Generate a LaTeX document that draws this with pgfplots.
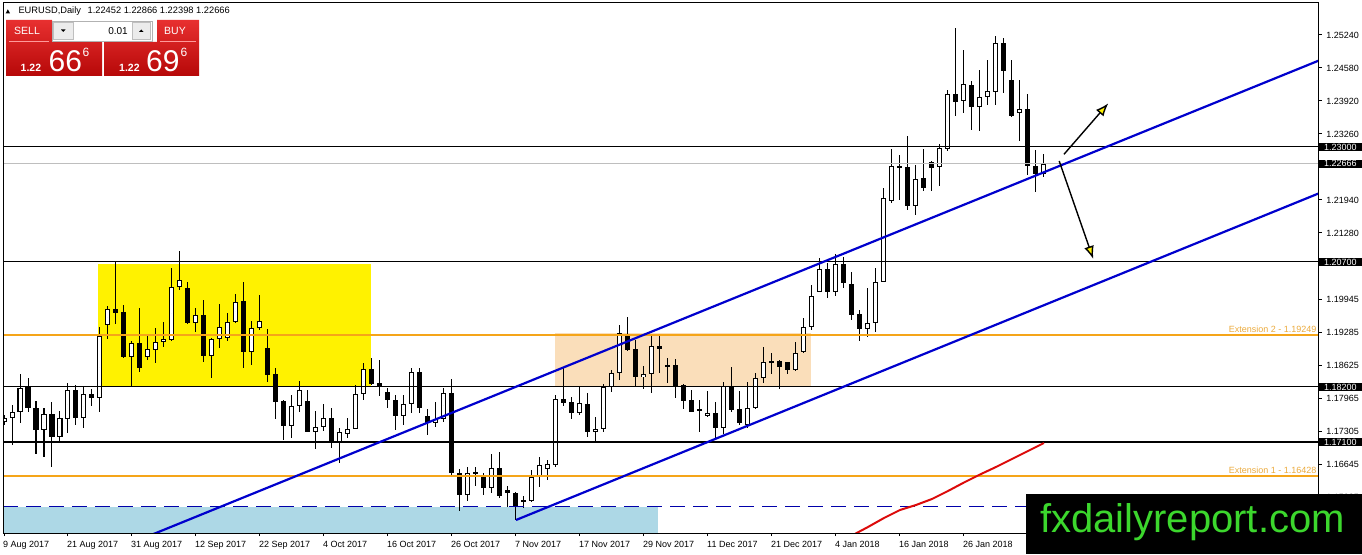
\documentclass[border=0pt]{standalone}
\usepackage{pgfplots}
\pgfplotsset{compat=1.18}
\usepackage{pgfplotstable}
\usepackage{fontspec}
\setmainfont{Liberation Sans}
\newfontfamily\dejavu{DejaVu Sans}
\usetikzlibrary{arrows.meta}

\definecolor{chblue}{RGB}{0,0,205}
\definecolor{dashblue}{RGB}{0,0,170}
\definecolor{peach}{RGB}{250,222,186}
\definecolor{lblue}{RGB}{173,216,230}
\definecolor{orng}{RGB}{245,165,25}
\definecolor{exttxt}{RGB}{235,170,60}
\definecolor{mared}{RGB}{220,10,10}
\definecolor{linegray}{RGB}{190,190,190}
\definecolor{wmgreen}{RGB}{60,215,45}
\definecolor{redtop}{RGB}{232,48,48}
\definecolor{redbot}{RGB}{182,8,8}

\pgfplotstableread{
i o h l c
0 1.17493 1.1764 1.1744 1.17573
1 1.17573 1.1784 1.1704 1.17693
2 1.17693 1.18453 1.17473 1.18187
3 1.18207 1.18373 1.17707 1.17773
4 1.17773 1.1792 1.16853 1.17333
5 1.17333 1.17773 1.16807 1.17653
6 1.17653 1.17893 1.16607 1.17207
7 1.17207 1.17727 1.17073 1.17573
8 1.1756 1.18273 1.17273 1.18133
9 1.18133 1.1824 1.1744 1.17587
10 1.17587 1.18207 1.17387 1.18053
11 1.18053 1.1816 1.17827 1.17973
12 1.17973 1.19407 1.17707 1.1922
13 1.1944 1.1982 1.19153 1.19753
14 1.19753 1.20693 1.19453 1.19687
15 1.19693 1.1984 1.18787 1.18807
16 1.18807 1.1912 1.18207 1.19073
17 1.19073 1.19787 1.18507 1.18573
18 1.18807 1.19227 1.18733 1.18953
19 1.1894 1.19387 1.18673 1.19107
20 1.19107 1.19493 1.19007 1.19153
21 1.19147 1.20573 1.19127 1.20193
22 1.20193 1.2092 1.2014 1.2034
23 1.20187 1.20293 1.1946 1.19473
24 1.19487 1.19773 1.19293 1.1964
25 1.1964 1.1994 1.18707 1.18827
26 1.18827 1.19187 1.18373 1.19153
27 1.19153 1.19853 1.18987 1.1940
28 1.19187 1.19673 1.1912 1.19507
29 1.19507 1.20053 1.19473 1.19907
30 1.1992 1.20307 1.18587 1.18907
31 1.18907 1.1952 1.1864 1.19387
32 1.19387 1.2004 1.1934 1.19527
33 1.18973 1.1936 1.18307 1.1844
34 1.18453 1.18587 1.1756 1.17907
35 1.1792 1.17933 1.1714 1.17427
36 1.17427 1.1804 1.17187 1.17827
37 1.17827 1.1832 1.17707 1.18133
38 1.1792 1.18133 1.17293 1.17307
39 1.17307 1.1772 1.16953 1.17407
40 1.17407 1.17867 1.1732 1.17573
41 1.17573 1.17773 1.16987 1.17107
42 1.17107 1.17387 1.16673 1.17307
43 1.1727 1.17573 1.17187 1.17367
44 1.17367 1.1824 1.1736 1.18053
45 1.18053 1.18687 1.17933 1.18553
46 1.18553 1.18773 1.1824 1.18267
47 1.1828 1.1874 1.18027 1.182
48 1.18093 1.18187 1.17787 1.17933
49 1.17933 1.1804 1.1734 1.17627
50 1.17627 1.1804 1.1744 1.17853
51 1.17853 1.18573 1.17673 1.18493
52 1.18493 1.18573 1.17673 1.17787
53 1.17627 1.1776 1.1724 1.17473
54 1.17473 1.17907 1.1741 1.1756
55 1.1756 1.18173 1.17507 1.18087
56 1.18087 1.18353 1.16407 1.16487
57 1.16487 1.16553 1.15727 1.1604
58 1.1604 1.16607 1.15927 1.16487
59 1.1650 1.16607 1.1622 1.1646
60 1.1642 1.16473 1.1604 1.16173
61 1.16173 1.1686 1.16073 1.16573
62 1.16573 1.1690 1.15973 1.16027
63 1.1614 1.16227 1.15793 1.16073
64 1.16087 1.1610 1.1554 1.1582
65 1.159 1.1602 1.15773 1.1594
66 1.15927 1.1654 1.159 1.16407
67 1.16407 1.16793 1.16207 1.1664
68 1.1657 1.1674 1.1634 1.1666
69 1.1664 1.1804 1.16607 1.1796
70 1.1796 1.18573 1.1782 1.17887
71 1.1790 1.17993 1.17553 1.17673
72 1.17673 1.18193 1.1764 1.17887
73 1.1786 1.18087 1.1721 1.17307
74 1.17307 1.176 1.17107 1.1736
75 1.17353 1.1826 1.17307 1.18193
76 1.18193 1.1854 1.18107 1.18473
77 1.18473 1.1944 1.1834 1.19287
78 1.1924 1.19593 1.18927 1.1894
79 1.18953 1.1914 1.1822 1.18393
80 1.18393 1.1862 1.18153 1.1846
81 1.1846 1.1924 1.18073 1.1902
82 1.1902 1.1924 1.18487 1.18953
83 1.18633 1.18773 1.18273 1.18607
84 1.1864 1.1876 1.17987 1.18227
85 1.1824 1.18253 1.1777 1.17927
86 1.1794 1.1814 1.17693 1.17707
87 1.17747 1.1794 1.1729 1.17733
88 1.1763 1.1812 1.17607 1.17673
89 1.17673 1.17907 1.1717 1.17387
90 1.17387 1.18307 1.17253 1.18227
91 1.18227 1.18607 1.17693 1.1774
92 1.1776 1.1812 1.1745 1.17473
93 1.1744 1.183 1.17387 1.17787
94 1.17787 1.18473 1.1776 1.18373
95 1.18373 1.19007 1.18273 1.18693
96 1.18713 1.18873 1.18453 1.18693
97 1.1872 1.1874 1.1816 1.18607
98 1.18693 1.18707 1.18453 1.1854
99 1.1854 1.19093 1.18527 1.18873
100 1.18893 1.19587 1.1888 1.19393
101 1.19407 1.2024 1.1934 1.2002
102 1.20107 1.20787 1.20093 1.2056
103 1.2056 1.20673 1.19987 1.20107
104 1.20107 1.20853 1.2003 1.20653
105 1.20653 1.20807 1.20187 1.20273
106 1.20253 1.20507 1.1954 1.1964
107 1.19653 1.1974 1.1912 1.19353
108 1.19353 1.20173 1.19207 1.19473
109 1.19473 1.20573 1.19293 1.20293
110 1.20307 1.22173 1.20293 1.21973
111 1.21927 1.22953 1.21873 1.2262
112 1.2262 1.2284 1.2194 1.22573
113 1.22607 1.2322 1.2174 1.2182
114 1.21827 1.2264 1.2164 1.22353
115 1.22373 1.22953 1.22127 1.22187
116 1.22707 1.2272 1.22127 1.22587
117 1.22593 1.2306 1.2222 1.22987
118 1.2297 1.2414 1.22927 1.2406
119 1.2406 1.25373 1.2362 1.23907
120 1.23927 1.2494 1.23687 1.2426
121 1.2424 1.24327 1.2334 1.23807
122 1.23807 1.2454 1.23327 1.23993
123 1.24007 1.2474 1.2384 1.2412
124 1.24107 1.2522 1.2384 1.25073
125 1.25073 1.25173 1.24087 1.24527
126 1.2434 1.2474 1.23607 1.2362
127 1.23687 1.2434 1.23127 1.23753
128 1.23753 1.2406 1.2244 1.2262
129 1.2262 1.2294 1.22107 1.2246
130 1.22452 1.22866 1.22398 1.22666
}\candles

\begin{document}
\begin{tikzpicture}
\path[use as bounding box] (0pt,0pt) rectangle (1362pt,554pt);
\begin{axis}[
  at={(3pt,21pt)}, anchor=south west,
  scale only axis, width=1316pt, height=530pt,
  xmin=-0.125, xmax=164.375, ymin=1.1528, ymax=1.2588,
  axis on top,
  axis line style={line width=1pt},
  tick align=outside, major tick length=3pt,
  tick style={black, line width=1pt},
  xtick pos=left, ytick pos=right, yticklabel pos=right,
  xtick={0,8,...,120},
  xticklabels={9 Aug 2017,21 Aug 2017,31 Aug 2017,12 Sep 2017,22 Sep 2017,4 Oct 2017,16 Oct 2017,26 Oct 2017,7 Nov 2017,17 Nov 2017,29 Nov 2017,11 Dec 2017,21 Dec 2017,4 Jan 2018,16 Jan 2018,26 Jan 2018},
  ytick={1.2524,1.2458,1.2392,1.2326,1.2194,1.2128,1.19945,1.19285,1.18625,1.17965,1.17305,1.16645,1.15985},
  yticklabels={1.25240,1.24580,1.23920,1.23260,1.21940,1.21280,1.19945,1.19285,1.18625,1.17965,1.17305,1.16645,1.15985},
  extra y ticks={1.23,1.22666,1.207,1.182,1.171},
  extra y tick labels={1.23000,1.22666,1.20700,1.18200,1.17100},
  extra y tick style={major tick length=0pt, yticklabel style={fill=black, text=white, inner xsep=5pt}},
  ticklabel style={font=\fontsize{9}{10}\selectfont},
  xticklabel style={anchor=north west, inner sep=0pt, xshift=-1pt, yshift=-5pt},
  yticklabel style={anchor=west, inner xsep=4.25pt, inner ysep=0.8pt},
]
% background rectangles
\addplot[fill=yellow, draw=none, forget plot] coordinates {(11.75,1.182) (45.875,1.182) (45.875,1.2066) (11.75,1.2066)};
\addplot[fill=peach, draw=none, forget plot] coordinates {(68.875,1.1822) (100.875,1.1822) (100.875,1.1928) (68.875,1.1928)};
\addplot[fill=lblue, draw=none, forget plot] coordinates {(-1,1.150) (81.75,1.150) (81.75,1.1580) (-1,1.1580)};
% candles: wicks
\addplot[only marks, mark=none, mark size=0pt, mark options={draw=none, fill=none}, forget plot, error bars/.cd, y dir=both, y explicit, error mark=none, error bar style={draw=black, line width=1pt}]
  table[x=i, y expr={(\thisrow{h}+\thisrow{l})/2}, y error expr={(\thisrow{h}-\thisrow{l})/2}] {\candles};
% candles: bodies
\addplot[only marks, mark=none, mark size=0pt, mark options={draw=none, fill=none}, forget plot, error bars/.cd, y dir=both, y explicit, error mark=none, error bar style={draw=black, line width=5pt}]
  table[x=i, y expr={(\thisrow{o}+\thisrow{c})/2}, y error expr={max(abs(\thisrow{o}-\thisrow{c})/2,0.0001)}] {\candles};
\addplot[only marks, mark=none, mark size=0pt, mark options={draw=none, fill=none}, forget plot, error bars/.cd, y dir=both, y explicit, error mark=none, error bar style={draw=white, line width=3pt}]
  table[x=i, y expr={(\thisrow{o}+\thisrow{c})/2}, y error expr={max((\thisrow{c}-\thisrow{o})/2-0.0002,0)}] {\candles};
% horizontal levels
\addplot[black, line width=1pt, forget plot] coordinates {(-1,1.23) (170,1.23)};
\addplot[linegray, line width=1pt, forget plot] coordinates {(-1,1.22666) (170,1.22666)};
\addplot[black, line width=1pt, forget plot] coordinates {(-1,1.207) (170,1.207)};
\addplot[black, line width=1pt, forget plot] coordinates {(-1,1.182) (170,1.182)};
\addplot[black, line width=2pt, forget plot] coordinates {(-1,1.171) (170,1.171)};
\addplot[orng, line width=2pt, forget plot] coordinates {(-1,1.19249) (170,1.19249)};
\addplot[orng, line width=2pt, forget plot] coordinates {(-1,1.16428) (170,1.16428)};
\addplot[dashblue, line width=1pt, dash pattern=on 15pt off 8pt, forget plot] coordinates {(-0.125,1.1580) (170,1.1580)};
% channel
\addplot[chblue, line width=2.2pt, forget plot] coordinates {(15,1.1502) (164.375,1.2473)};
\addplot[chblue, line width=2.2pt, forget plot] coordinates {(64,1.1554) (164.375,1.22074)};
% red moving line
\addplot[mared, line width=2pt, forget plot] coordinates {(106,1.1523) (108,1.1540) (110,1.1558) (112,1.1574) (114,1.1584) (116,1.1596) (118,1.1612) (120,1.1629) (122,1.1645) (124,1.1660) (126,1.1676) (128,1.1692) (130,1.1708)};
% arrows
\addplot[black, line width=1.4pt, -{Latex[length=13pt,width=10pt,fill=yellow]}, forget plot] coordinates {(132.5,1.22854) (138.04,1.23874)};
\addplot[black, line width=1.4pt, -{Latex[length=13pt,width=10pt,fill=yellow]}, forget plot] coordinates {(131.9,1.2272) (136.16,1.2076)};
% labels
\node[anchor=south east, inner sep=1pt, text=exttxt, font=\fontsize{9}{10}\selectfont] at (axis cs:164.2,1.1927) {Extension 2 - 1.19249};
\node[anchor=south east, inner sep=1pt, text=exttxt, font=\fontsize{9}{10}\selectfont] at (axis cs:164.2,1.1645) {Extension 1 - 1.16428};
\end{axis}
\begin{scope}[x=1pt,y=1pt]
% header
\fill[black] (5.7,540.7) -- (10,540.7) -- (7.85,544.7) -- cycle;
\node[anchor=base west, inner sep=0pt, font=\fontsize{9.3}{10}\selectfont] at (18.3,540) {EURUSD,Daily\hspace{4pt} 1.22452 1.22866 1.22398 1.22666};
% sell / buy panels
\shade[top color=redtop, bottom color=redbot] (6,534) -- (52,534) -- (52,512) -- (102,512) -- (102,478) -- (6,478) -- cycle;
\shade[top color=redtop, bottom color=redbot] (104,512) -- (157,512) -- (157,534) -- (199,534) -- (199,478) -- (104,478) -- cycle;
\draw[red!40!white, line width=0.8pt] (9,512.5) -- (49,512.5);
\draw[red!40!white, line width=0.8pt] (160,512.5) -- (196,512.5);
\filldraw[fill=white, draw=gray!60, line width=0.8pt] (52,533) rectangle (152,513);
\filldraw[fill=gray!15, draw=gray!50, line width=0.6pt] (53.5,531.5) rectangle (73,514.5);
\filldraw[fill=gray!15, draw=gray!50, line width=0.6pt] (132,531.5) rectangle (150.5,514.5);
\fill[black] (61,524.5) -- (65.5,524.5) -- (63.25,522) -- cycle;
\fill[black] (139,522) -- (143.5,522) -- (141.25,524.5) -- cycle;
\node[anchor=base east, inner sep=0pt, font=\fontsize{10}{11}\selectfont] at (128,519.5) {0.01};
\node[anchor=base, inner sep=0pt, text=white, font=\fontsize{10.5}{11}\selectfont] at (27,519) {SELL};
\node[anchor=base, inner sep=0pt, text=white, font=\fontsize{10.5}{11}\selectfont] at (175,519) {BUY};
\node[anchor=base west, inner sep=0pt, text=white, font=\bfseries\fontsize{10.5}{11}\selectfont] at (20.5,482) {1.22};
\node[anchor=base west, inner sep=0pt, text=white, font=\fontsize{30}{30}\selectfont] at (48.5,482) {66};
\node[anchor=base west, inner sep=0pt, text=white, font=\fontsize{12}{12}\selectfont] at (82.5,497) {6};
\node[anchor=base west, inner sep=0pt, text=white, font=\bfseries\fontsize{10.5}{11}\selectfont] at (119,482) {1.22};
\node[anchor=base west, inner sep=0pt, text=white, font=\fontsize{30}{30}\selectfont] at (146,482) {69};
\node[anchor=base west, inner sep=0pt, text=white, font=\fontsize{12}{12}\selectfont] at (180.5,497) {6};
% watermark
\fill[black] (1026,0) rectangle (1362,60);
\node[anchor=base west, inner sep=0pt, text=wmgreen, font=\fontsize{40}{40}\selectfont] at (1040,21) {fxdailyreport.com};
\end{scope}
\end{tikzpicture}
\end{document}
